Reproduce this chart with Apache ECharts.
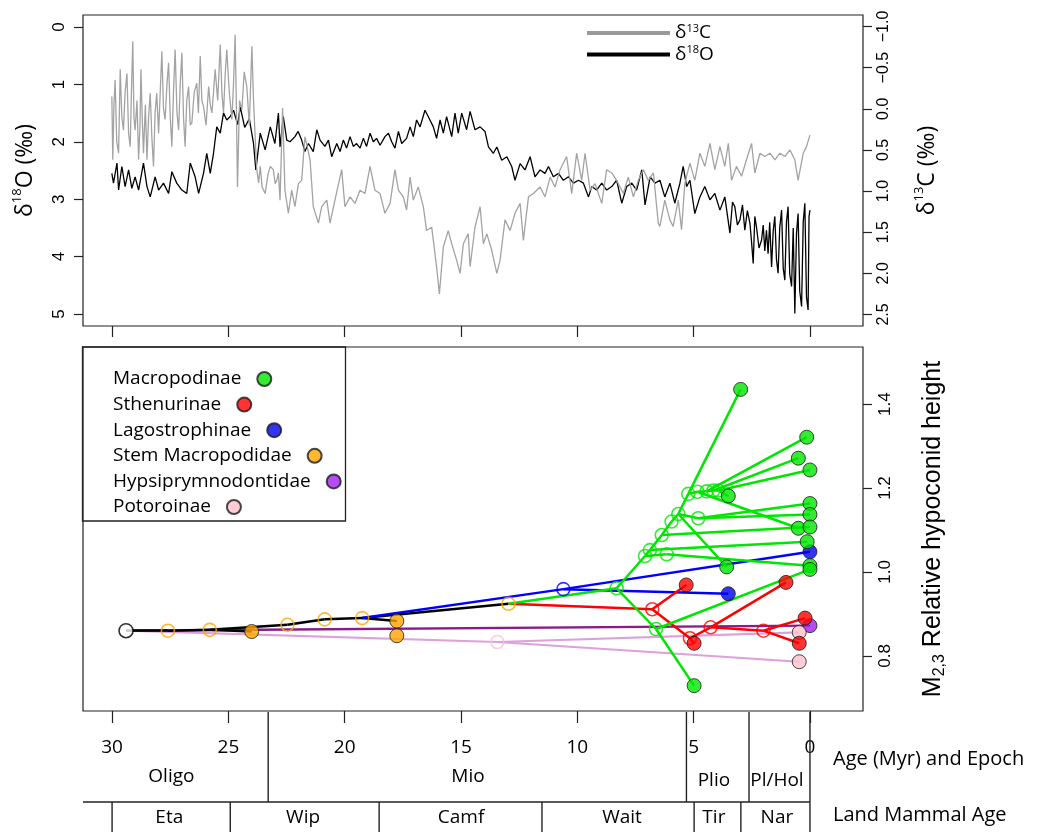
<!DOCTYPE html>
<html><head><meta charset="utf-8">
<script src="https://cdn.jsdelivr.net/npm/echarts@6/dist/echarts.min.js"></script>
<style>html,body{margin:0;padding:0;background:#fff}#c{width:1037px;height:832px}</style>
</head><body><div id="c"></div>
<script>
// ---------- Top panel: isotope curves [age (Myr), value] ----------
const d18O = [
[30.01,2.55],[29.94,2.72],[29.79,2.37],[29.72,2.84],[29.58,2.43],[29.44,2.78],[29.29,2.49],[29.15,2.81],[29.01,2.61],[28.86,2.84],[28.65,2.37],[28.50,2.78],[28.36,2.96],[28.15,2.61],[28.00,2.84],[27.79,2.72],[27.57,2.90],[27.43,2.52],[27.22,2.72],[27.00,2.84],[26.79,2.90],[26.64,2.37],[26.43,2.61],[26.28,2.90],[26.07,2.55],[25.93,2.20],[25.78,2.55],[25.64,2.20],[25.50,1.74],[25.35,1.85],[25.21,1.50],[25.07,1.62],[24.92,1.56],[24.78,1.45],[24.60,1.70],[24.49,1.39],[24.30,1.75],[24.10,1.60],[23.92,2.03],[23.82,2.49],[23.63,1.85],[23.42,2.14],[23.20,1.74],[23.00,2.03],[22.85,1.50],[22.78,2.09],[22.64,1.56],[22.49,1.97],[22.35,2.00],[22.14,1.91],[22.00,1.82],[21.85,1.97],[21.71,2.17],[21.56,2.03],[21.35,2.17],[21.20,1.79],[21.06,1.97],[20.85,2.08],[20.70,1.97],[20.56,2.26],[20.34,2.03],[20.20,2.17],[20.06,1.97],[19.92,2.11],[19.77,1.91],[19.63,2.08],[19.49,2.03],[19.34,2.11],[19.20,1.94],[19.06,2.08],[18.91,1.85],[18.77,2.00],[18.63,1.94],[18.48,2.06],[18.27,1.91],[18.12,1.85],[17.98,2.00],[17.84,2.11],[17.69,1.82],[17.55,2.03],[17.34,1.94],[17.19,1.74],[17.05,1.91],[16.91,1.62],[16.76,1.74],[16.55,1.45],[16.41,1.56],[16.19,1.74],[16.05,1.94],[15.90,1.62],[15.76,1.85],[15.62,1.56],[15.40,1.91],[15.26,1.50],[15.12,1.85],[14.97,1.50],[14.76,1.79],[14.61,1.47],[14.40,1.79],[14.18,1.74],[13.97,1.82],[13.82,2.09],[13.61,2.20],[13.46,2.09],[13.25,2.32],[13.03,2.26],[12.82,2.43],[12.68,2.67],[12.46,2.38],[12.25,2.49],[12.03,2.26],[11.82,2.61],[11.60,2.49],[11.39,2.55],[11.24,2.43],[11.03,2.61],[10.81,2.55],[10.60,2.67],[10.38,2.61],[10.17,2.72],[9.95,2.67],[9.74,2.72],[9.52,2.96],[9.38,2.78],[9.17,2.84],[8.95,2.72],[8.74,2.84],[8.52,2.78],[8.31,2.67],[8.09,3.07],[7.88,2.78],[7.66,2.72],[7.45,2.84],[7.23,2.49],[7.09,3.10],[6.87,2.61],[6.66,2.72],[6.45,2.67],[6.24,2.96],[6.02,2.72],[5.81,3.07],[5.59,2.72],[5.45,2.43],[5.30,2.78],[5.16,2.67],[4.95,3.25],[4.73,2.96],[4.52,2.78],[4.30,3.01],[4.09,2.90],[3.87,3.19],[3.66,2.96],[3.44,3.59],[3.33,3.05],[3.23,3.13],[3.12,3.45],[3.01,3.36],[2.90,3.10],[2.80,3.54],[2.69,3.20],[2.58,3.42],[2.51,3.75],[2.44,4.12],[2.37,3.30],[2.30,3.48],[2.19,3.85],[2.08,3.71],[2.01,3.45],[1.94,3.90],[1.87,3.54],[1.80,3.95],[1.73,3.40],[1.65,4.18],[1.58,3.55],[1.51,3.30],[1.44,4.05],[1.37,4.29],[1.30,3.50],[1.22,3.19],[1.15,4.20],[1.08,4.41],[1.01,3.40],[0.94,3.13],[0.87,4.30],[0.79,4.52],[0.72,3.50],[0.65,4.99],[0.58,3.60],[0.51,3.25],[0.44,4.60],[0.36,4.87],[0.29,3.40],[0.22,3.07],[0.15,4.70],[0.08,4.93],[0.04,3.30],[0.00,3.19]
];
const d13C = [
[30.01,-0.15],[29.97,0.62],[29.92,-0.05],[29.87,-0.35],[29.80,0.40],[29.72,0.54],[29.65,-0.48],[29.58,0.10],[29.51,0.26],[29.44,-0.20],[29.36,-0.43],[29.29,0.30],[29.22,0.46],[29.16,-0.30],[29.11,-0.82],[29.06,0.10],[29.01,0.26],[28.93,-0.10],[28.86,0.62],[28.80,0.20],[28.76,-0.48],[28.70,0.15],[28.65,0.54],[28.57,-0.05],[28.50,0.62],[28.43,0.10],[28.36,-0.19],[28.29,0.35],[28.22,0.70],[28.15,0.05],[28.08,-0.19],[28.00,0.30],[27.93,-0.20],[27.86,-0.70],[27.79,0.00],[27.72,0.13],[27.64,-0.30],[27.57,-0.56],[27.50,0.10],[27.43,0.46],[27.36,-0.20],[27.29,-0.72],[27.21,0.05],[27.14,0.26],[27.07,-0.30],[27.00,-0.68],[26.93,0.10],[26.86,0.46],[26.79,-0.10],[26.71,-0.27],[26.64,0.20],[26.57,0.17],[26.47,-0.20],[26.36,-0.31],[26.29,0.05],[26.21,-0.64],[26.14,-0.10],[26.07,-0.03],[25.96,0.20],[25.85,-0.27],[25.78,-0.05],[25.71,0.05],[25.64,-0.20],[25.57,-0.48],[25.46,-0.10],[25.35,-0.78],[25.28,-0.20],[25.21,0.05],[25.14,-0.40],[25.07,-0.72],[24.96,-0.20],[24.85,0.13],[24.78,-0.30],[24.71,-0.90],[24.66,-0.10],[24.61,0.95],[24.52,-0.10],[24.42,0.01],[24.32,-0.45],[24.21,-0.27],[24.10,0.20],[23.99,-0.76],[23.92,-0.10],[23.85,0.34],[23.78,0.74],[23.70,0.90],[23.63,0.70],[23.55,0.95],[23.42,1.03],[23.30,0.80],[23.20,0.70],[23.07,0.74],[22.99,0.91],[22.92,0.87],[22.85,0.78],[22.78,1.11],[22.67,-0.01],[22.57,0.99],[22.42,1.27],[22.28,0.99],[22.14,1.19],[21.99,0.91],[21.85,0.87],[21.71,0.34],[21.61,0.46],[21.49,0.62],[21.35,1.19],[21.13,1.39],[20.99,1.19],[20.77,1.11],[20.63,1.39],[20.42,1.11],[20.13,0.74],[19.99,1.19],[19.77,1.07],[19.56,1.15],[19.34,0.99],[19.13,1.03],[18.91,0.70],[18.70,0.99],[18.48,1.03],[18.27,1.27],[18.05,1.15],[17.84,0.74],[17.69,0.99],[17.48,1.07],[17.34,1.23],[17.19,0.83],[17.05,1.11],[16.84,0.95],[16.62,1.19],[16.48,1.48],[16.26,1.44],[16.05,1.92],[15.93,2.25],[15.76,1.68],[15.55,1.48],[15.40,1.64],[15.19,1.84],[15.04,2.00],[14.90,1.64],[14.69,1.52],[14.61,1.92],[14.40,1.44],[14.18,1.19],[14.04,1.64],[13.89,1.52],[13.68,1.72],[13.46,2.00],[13.32,1.84],[13.11,1.35],[12.89,1.48],[12.68,1.27],[12.46,1.15],[12.32,1.60],[12.10,1.07],[11.89,1.03],[11.60,0.95],[11.39,1.07],[11.17,0.83],[10.96,0.95],[10.74,0.74],[10.46,0.58],[10.24,1.03],[10.03,0.54],[9.81,0.87],[9.67,0.54],[9.45,0.99],[9.24,0.91],[8.95,1.15],[8.74,0.74],[8.52,0.78],[8.31,0.87],[8.02,1.03],[7.81,0.83],[7.59,1.07],[7.38,0.87],[7.16,0.74],[6.95,0.87],[6.73,0.78],[6.52,1.39],[6.45,1.43],[6.24,1.11],[6.02,1.35],[5.88,1.43],[5.66,1.11],[5.52,1.47],[5.38,0.91],[5.16,0.66],[4.95,0.87],[4.73,0.54],[4.52,0.70],[4.30,0.42],[4.09,0.74],[3.87,0.46],[3.66,0.70],[3.51,0.42],[3.37,0.87],[3.16,0.70],[2.94,0.82],[2.73,0.62],[2.51,0.42],[2.37,0.78],[2.15,0.54],[1.94,0.58],[1.72,0.54],[1.51,0.62],[1.29,0.54],[1.08,0.58],[0.86,0.50],[0.65,0.62],[0.51,0.87],[0.29,0.54],[0.15,0.46],[0.00,0.32]
];
const d18OTicks = [0, 1, 2, 3, 4, 5];
const d13CTicks = [-1.0, -0.5, 0.0, 0.5, 1.0, 1.5, 2.0, 2.5];
const ageTicks = [30, 25, 20, 15, 10, 5, 0];
const hypTicks = [0.8, 1.0, 1.2, 1.4];

// ---------- Bottom panel: phenogram [age (Myr), relative hypoconid height] ----------
const rootNode = [29.4, 0.860];
const stemNodes = [[27.6,0.860],[25.8,0.862],[22.46,0.874],[20.86,0.887],[19.25,0.890],[12.96,0.924]];
const stemTips = [[24.0,0.858],[17.76,0.883],[17.76,0.848]];
const lagoNodes = [[10.6,0.959]];
const lagoTips = [[0,1.048],[3.51,0.948]];
const sthenNodes = [[6.78,0.911],[5.16,0.842],[4.27,0.868],[2.0,0.860]];
const sthenTips = [[5.32,0.969],[4.98,0.830],[1.03,0.975],[0.21,0.890],[0.46,0.830]];
const macroNodes = [[8.31,0.961],[6.62,0.864],[7.09,1.038],[6.88,1.052],[6.16,1.042],[6.37,1.088],[5.95,1.120],[5.66,1.138],[4.80,1.128],[5.23,1.186],[4.84,1.191],[4.44,1.192],[4.15,1.194],[3.94,1.194]];
const macroTips = [[2.98,1.435],[0.14,1.321],[0.50,1.271],[0,1.243],[3.51,1.181],[0,1.163],[0,1.137],[0.50,1.104],[0,1.107],[0.12,1.072],[0,1.015],[0,1.006],[3.58,1.012],[4.98,0.729]];
const hypsiTips = [[0,0.872]];
const potoNodes = [[13.44,0.833]];
const potoTips = [[0.46,0.856],[0.46,0.786]];

const S = stemNodes, M = macroNodes, MT = macroTips, R = sthenNodes, RT = sthenTips;
const stemEdges = [[rootNode,S[0]],[S[0],S[1]],[S[1],stemTips[0]],[S[1],S[2]],[S[2],S[3]],[S[3],S[4]],[S[4],stemTips[1]],[S[4],S[5]]];
const lagoEdges = [[S[4],lagoNodes[0]],[lagoNodes[0],lagoTips[0]],[lagoNodes[0],lagoTips[1]]];
const sthenEdges = [[S[5],R[0]],[R[0],RT[0]],[R[0],R[1]],[R[1],RT[1]],[R[1],R[2]],[R[2],RT[2]],[R[2],R[3]],[R[3],RT[3]],[R[3],RT[4]]];
const macroEdges = [[S[5],M[0]],[M[0],M[1]],[M[1],MT[13]],[M[1],MT[11]],[M[0],M[2]],[M[2],M[4]],[M[4],MT[10]],[M[2],M[3]],[M[3],MT[9]],[M[3],M[5]],[M[5],MT[8]],[M[5],M[6]],[M[6],M[7]],[M[7],MT[12]],[M[7],M[8]],[M[8],MT[5]],[M[8],MT[6]],[M[7],M[9]],[M[9],MT[0]],[M[9],M[10]],[M[10],MT[7]],[M[10],M[11]],[M[11],MT[1]],[M[11],M[12]],[M[12],MT[2]],[M[12],M[13]],[M[13],MT[3]],[M[13],MT[4]]];
const hypsiEdges = [[rootNode,hypsiTips[0]]];
const potoEdges = [[rootNode,potoNodes[0]],[potoNodes[0],potoTips[0]],[potoNodes[0],potoTips[1]]];

const cladeNames = ['Macropodinae','Sthenurinae','Lagostrophinae','Stem Macropodidae','Hypsiprymnodontidae','Potoroinae'];

// ---------- Time scale ----------
const epochBounds = [23.29, 5.31, 2.62, 0];
const epochLabels = [['Oligo',27.45],['Mio',14.7],['Plio',4.13],['Pl/Hol',1.42]];
const lmaBounds = [30, 24.92, 18.52, 11.52, 4.98, 2.97, 0];
const lmaLabels = [['Eta',27.54],['Wip',21.79],['Camf',15.0],['Wait',8.08],['Tir',4.13],['Nar',1.42]];

// ---------- Chart ----------
const FONT = 'Open Sans';
const NUMF = 'Liberation Sans';
const AGE_MIN = -2.28, AGE_MAX = 31.25;
const chart = echarts.init(document.getElementById('c'), null, {renderer: 'canvas'});

const colors = {
  Macropodinae: '#00e600', Sthenurinae: '#ff0000', Lagostrophinae: '#0000f0',
  'Stem Macropodidae': '#ffa500', Hypsiprymnodontidae: '#a020f0', Potoroinae: '#ffc0cb'
};
const tipSets = {
  Macropodinae: macroTips, Sthenurinae: sthenTips, Lagostrophinae: lagoTips,
  'Stem Macropodidae': stemTips, Hypsiprymnodontidae: hypsiTips, Potoroinae: potoTips
};

function edgeSeries(edges, color, width) {
  return {type: 'lines', coordinateSystem: 'cartesian2d', xAxisIndex: 1, yAxisIndex: 2,
    polyline: false, silent: true, z: 2,
    lineStyle: {color: color, width: width, opacity: 1},
    data: edges.map(e => ({coords: [e[0], e[1]]}))};
}
function openSeries(nodes, color) {
  return {type: 'scatter', xAxisIndex: 1, yAxisIndex: 2, symbol: 'circle', symbolSize: 13, z: 3, silent: true,
    itemStyle: {color: 'rgba(255,255,255,0)', borderColor: color, borderWidth: 1.6}, data: nodes};
}

const supRich = (fs, lh) => ({
  a: {fontFamily: FONT, fontSize: fs, lineHeight: lh, color: '#000'},
  s: {fontFamily: FONT, fontSize: Math.round(fs * 0.56), verticalAlign: 'top', color: '#000'},
  b: {fontFamily: NUMF, fontSize: fs, lineHeight: lh, color: '#000'},
  u: {fontFamily: NUMF, fontSize: Math.round(fs * 0.62), verticalAlign: 'bottom', color: '#000'}
});

const tickStyle = {color: '#222', width: 1.2};
const noLine = {show: false, onZero: false};

const series = [
  {name: 'δ18O', type: 'line', xAxisIndex: 0, yAxisIndex: 0, data: d18O, showSymbol: false, symbol: 'none',
   lineStyle: {color: '#000', width: 1.3}, itemStyle: {color: '#000'}, z: 2, silent: true},
  {name: 'δ13C', type: 'line', xAxisIndex: 0, yAxisIndex: 1, data: d13C, showSymbol: false, symbol: 'none',
   lineStyle: {color: '#a3a3a3', width: 1.3}, itemStyle: {color: '#9a9a9a'}, z: 3, silent: true},
  edgeSeries(potoEdges, '#dda0dd', 2.2),
  edgeSeries(hypsiEdges, '#8b1a8b', 2.4),
  edgeSeries(stemEdges, '#000000', 2.5),
  edgeSeries(lagoEdges, '#0000ff', 2.5),
  edgeSeries(sthenEdges, '#ff0000', 2.5),
  edgeSeries(macroEdges, '#00e600', 2.5),
  openSeries(stemNodes, '#ffa500'),
  openSeries(potoNodes, '#ffc0cb'),
  openSeries(lagoNodes, '#0000ff'),
  openSeries(sthenNodes, '#ff0000'),
  openSeries(macroNodes, '#00e600'),
  {type: 'scatter', xAxisIndex: 1, yAxisIndex: 2, symbol: 'circle', symbolSize: 14, z: 4, silent: true,
   itemStyle: {color: '#fff', borderColor: '#000', borderWidth: 1.6}, data: [rootNode]}
];
['Hypsiprymnodontidae','Potoroinae','Stem Macropodidae','Lagostrophinae','Sthenurinae','Macropodinae'].forEach(n => {
  series.push({name: n, type: 'scatter', xAxisIndex: 1, yAxisIndex: 2, symbol: 'circle', symbolSize: 14, z: 5, silent: true,
    itemStyle: {color: colors[n], borderColor: '#1a1a1a', borderWidth: 1}, data: tipSets[n]});
});

// time-scale boxes
const vline = (y0, y1) => (p, api) => {
  const a = api.value(0);
  const p0 = api.coord([a, y0]), p1 = api.coord([a, y1]);
  return {type: 'line', shape: {x1: p0[0], y1: p0[1], x2: p1[0], y2: p1[1]}, style: {stroke: '#222', lineWidth: 1.4}};
};
series.push({type: 'custom', xAxisIndex: 2, yAxisIndex: 3, silent: true, clip: false,
  renderItem: vline(0, 90), data: epochBounds.map(a => [a, 0])});
series.push({type: 'custom', xAxisIndex: 2, yAxisIndex: 3, silent: true, clip: false,
  renderItem: vline(90, 120), data: lmaBounds.map(a => [a, 0])});
series.push({type: 'custom', xAxisIndex: 2, yAxisIndex: 3, silent: true, clip: false,
  renderItem: (p, api) => {
    const p0 = api.coord([AGE_MAX, 90]), p1 = api.coord([api.value(0), 90]);
    return {type: 'line', shape: {x1: p0[0], y1: p0[1], x2: p1[0], y2: p1[1]}, style: {stroke: '#222', lineWidth: 1.6}};
  }, data: [[0, 0]]});
const labelSeries = (items, yFn) => ({type: 'custom', xAxisIndex: 2, yAxisIndex: 3, silent: true, clip: false,
  renderItem: (p, api) => {
    const pt = api.coord([api.value(0), api.value(1)]);
    return {type: 'text', x: pt[0], y: pt[1],
      style: {text: items[p.dataIndex][0], align: 'center', verticalAlign: 'middle', fill: '#000', fontFamily: FONT, fontSize: 19}};
  },
  data: items.map((it, i) => [it[1], yFn(i)])});
series.push(labelSeries(epochLabels, i => i < 2 ? 65 : 69));
series.push(labelSeries(lmaLabels, () => 106));

const legends = [{
  data: ['δ13C', 'δ18O'], orient: 'vertical', left: 587, top: 23, padding: 0, itemGap: 2,
  itemWidth: 83, itemHeight: 4, icon: 'rect', selectedMode: false,
  formatter: n => n === 'δ13C' ? '{a|δ}{s|13}{a|C}' : '{a|δ}{s|18}{a|O}',
  textStyle: {rich: supRich(19, 20)}
}];
cladeNames.forEach((n, i) => legends.push({
  data: [n], left: 113, top: 369 + i * 25.6, padding: 0, align: 'right', icon: 'circle',
  itemWidth: 36, itemHeight: 14, selectedMode: false,
  textStyle: {fontFamily: FONT, fontSize: 19, color: '#000', lineHeight: 20}
}));

const option = {
  animation: false,
  backgroundColor: '#fff',
  legend: legends,
  grid: [
    {left: 83, top: 15, width: 780, height: 311, show: true, borderColor: '#222', borderWidth: 1.2, backgroundColor: 'transparent'},
    {left: 83, top: 347, width: 780, height: 364, show: true, borderColor: '#222', borderWidth: 1.2, backgroundColor: 'transparent'},
    {left: 83, top: 712, width: 780, height: 120, show: false}
  ],
  xAxis: [
    {gridIndex: 0, type: 'value', inverse: true, min: AGE_MIN, max: AGE_MAX, position: 'bottom',
     axisLine: noLine, splitLine: {show: false},
     axisTick: {show: true, length: 11, lineStyle: tickStyle, customValues: ageTicks},
     axisLabel: {show: false}},
    {gridIndex: 1, type: 'value', inverse: true, min: AGE_MIN, max: AGE_MAX, position: 'bottom',
     axisLine: noLine, splitLine: {show: false},
     axisTick: {show: true, length: 12, lineStyle: tickStyle, customValues: ageTicks},
     axisLabel: {show: true, customValues: ageTicks, margin: 27, color: '#000', fontFamily: FONT, fontSize: 19}},
    {gridIndex: 2, type: 'value', inverse: true, min: AGE_MIN, max: AGE_MAX, show: false, axisLine: noLine}
  ],
  yAxis: [
    {gridIndex: 0, type: 'value', position: 'left', inverse: true, min: -0.209, max: 5.209,
     axisLine: noLine, splitLine: {show: false},
     axisTick: {show: true, length: 9, lineStyle: tickStyle, customValues: d18OTicks},
     axisLabel: {customValues: d18OTicks, rotate: 90, margin: 15, color: '#000', fontFamily: NUMF, fontSize: 17,
       formatter: v => String(Math.round(v))},
     name: '{a|δ}{s|18}{a|O (‰)}', nameLocation: 'middle', nameRotate: 90, nameGap: 44,
     nameTextStyle: {fontFamily: FONT, fontSize: 23, color: '#000', rich: supRich(23, 28)}},
    {gridIndex: 0, type: 'value', position: 'right', inverse: true, min: -1.14, max: 2.64,
     axisLine: noLine, splitLine: {show: false},
     axisTick: {show: true, length: 9, lineStyle: tickStyle, customValues: d13CTicks},
     axisLabel: {customValues: d13CTicks, rotate: 90, margin: 13, color: '#000', fontFamily: NUMF, fontSize: 16,
       formatter: v => (v < -1e-9 ? '\u2212' : '') + Math.abs(v).toFixed(1)},
     name: '{a|δ}{s|13}{a|C (‰)}', nameLocation: 'middle', nameRotate: 90, nameGap: 50,
     nameTextStyle: {fontFamily: FONT, fontSize: 23, color: '#000', rich: supRich(23, 28)}},
    {gridIndex: 1, type: 'value', position: 'right', min: 0.6686, max: 1.536,
     axisLine: noLine, splitLine: {show: false},
     axisTick: {show: true, length: 9, lineStyle: tickStyle, customValues: hypTicks},
     axisLabel: {customValues: hypTicks, rotate: 90, margin: 14, color: '#000', fontFamily: NUMF, fontSize: 17,
       formatter: v => v.toFixed(1)},
     name: '{b|M}{u|2,3}{b| Relative hypoconid height}', nameLocation: 'middle', nameRotate: 90, nameGap: 55,
     nameTextStyle: {fontFamily: NUMF, fontSize: 25, color: '#000', rich: supRich(25, 30)}},
    {gridIndex: 2, type: 'value', inverse: true, min: 0, max: 120, show: false, axisLine: noLine}
  ],
  graphic: [
    {type: 'rect', shape: {x: 82.5, y: 347, width: 263, height: 174}, style: {fill: 'none', stroke: '#222', lineWidth: 1.3}, z: 10, silent: true},
    {type: 'text', left: 833, top: 749, style: {text: 'Age (Myr) and Epoch', fontFamily: FONT, fontSize: 20, fill: '#000'}, silent: true},
    {type: 'text', left: 833, top: 805, style: {text: 'Land Mammal Age', fontFamily: FONT, fontSize: 20, fill: '#000'}, silent: true}
  ],
  series: series
};
chart.setOption(option);
</script>
</body></html>
